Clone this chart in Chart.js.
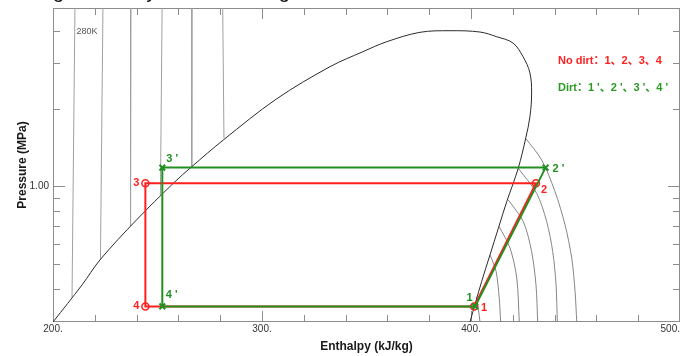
<!DOCTYPE html>
<html>
<head>
<meta charset="utf-8">
<script src="https://cdn.jsdelivr.net/npm/chart.js@4.4.1/dist/chart.umd.min.js"></script>
<style>
  html, body { margin: 0; padding: 0; background: #fff; }
  canvas { display: block; }
</style>
</head>
<body>
<canvas id="ph-chart" width="688" height="356"></canvas>
<script>
// saturation dome: liquid side up to the critical region, then down the vapour side
const satH = [200.0, 213.9, 222.5, 240.0, 257.6, 266.4, 281.5, 306.9, 332.5, 348.3, 359.7, 375.6, 390.0,
              404.3, 412.3, 420.1, 424.9, 428.2, 429.0, 428.2, 426.2, 422.6, 417.1, 413.1, 409.1, 405.1, 399.5];
const satP = [0.298, 0.415, 0.519, 0.742, 1.029, 1.193, 1.514, 2.183, 2.912, 3.331, 3.641, 3.960, 4.017,
              3.970, 3.807, 3.599, 3.185, 2.754, 2.304, 1.864, 1.542, 1.176, 0.873, 0.689, 0.543, 0.428, 0.298];

// isotherms, liquid part (top edge -> dome) and superheated part (dome -> bottom edge)
const isoLabels = ['280K', '290K', '300K', '310K', '320K', '330K'];
const isoLiquidH = [[210.5, 209.1], [223.9, 222.7], [237.3, 237.1], [252.2, 251.4], [266.5, 266.4], [281.2, 281.8]];
const isoLiquidP = [[4.92, 0.371], [4.92, 0.519], [4.92, 0.703], [4.92, 0.927], [4.92, 1.193], [4.92, 1.535]];
const isoVaporH = [
  [402.6, 403.6, 404.3],
  [409.1, 412.0, 413.5, 414.2],
  [413.5, 418.7, 421.9, 423.1],
  [417.8, 425.0, 429.0, 431.1, 431.9],
  [422.6, 431.4, 436.2, 439.1, 440.7, 441.3],
  [426.1, 433.8, 440.2, 445.0, 448.2, 449.8, 450.6]
];
const isoVaporP = [
  [0.373, 0.332, 0.298],
  [0.543, 0.468, 0.369, 0.298],
  [0.698, 0.576, 0.441, 0.298],
  [0.887, 0.731, 0.559, 0.415, 0.298],
  [1.176, 0.941, 0.731, 0.559, 0.415, 0.298],
  [1.538, 1.267, 0.955, 0.709, 0.527, 0.391, 0.298]
];

// cycle states 1-2-3-4
const noDirtLabels = ['1', '2', '3', '4'];
const noDirtH = [401.5, 431.1, 244.2, 244.2];
const noDirtP = [0.3426, 1.029, 1.029, 0.3426];
const dirtLabels = ['1', "2 '", "3 '", "4 '"];
const dirtH = [402.0, 435.7, 252.3, 252.3];
const dirtP = [0.3426, 1.183, 1.183, 0.3426];

// axis ticks
const xTickLabels = [200, 300, 400, 500];
const xMinorTicks = [220, 240, 260, 280, 320, 340, 360, 380, 420, 440, 460, 480];
const xMajorTicks = [300, 400];
const yMinorTicks = [0.4, 0.5, 0.6, 0.7, 0.8, 0.9, 2, 3, 4];
const yMajorTicks = [1.0];

const RED = '#ff1f1f';
const GREEN = '#21901e';
const FONT = '"Liberation Sans", Arial, "Noto Sans CJK SC", sans-serif';

function pts(hs, ps) { return hs.map((h, i) => ({x: h, y: ps[i]})); }

function cycle(hs, ps) {
  const d = pts(hs, ps);
  d.push(d[0]);
  return d;
}

const datasets = [];
isoLabels.forEach((lab, i) => {
  datasets.push({ label: lab + ' liq', data: pts(isoLiquidH[i], isoLiquidP[i]), borderColor: '#a0a0a0', order: 3 });
  datasets.push({ label: lab + ' vap', data: pts(isoVaporH[i], isoVaporP[i]), borderColor: '#858585', tension: 0.3, order: 3 });
});
datasets.push({ label: 'saturation', data: pts(satH, satP), borderColor: '#2b2b2b', tension: 0.35, order: 2 });
datasets.push({
  label: 'No dirt', data: cycle(noDirtH, noDirtP), borderColor: RED, borderWidth: 2, order: 1,
  pointStyle: 'circle', pointRadius: [3.5, 3.5, 3.5, 3.5, 0], pointBorderWidth: 1.5,
  pointBorderColor: RED, pointBackgroundColor: 'rgba(0,0,0,0)'
});
datasets.push({
  label: 'Dirt', data: cycle(dirtH, dirtP), borderColor: GREEN, borderWidth: 2, order: 0,
  pointStyle: 'crossRot', pointRadius: [4, 4, 4, 4, 0], pointBorderWidth: 2,
  pointBorderColor: GREEN, pointBackgroundColor: GREEN
});

const overlay = {
  id: 'overlay',
  beforeDatasetsDraw(chart) {
    const {ctx, chartArea: a, scales: {x, y}} = chart;
    ctx.save();
    ctx.strokeStyle = '#8c8c8c';
    ctx.lineWidth = 1;
    ctx.strokeRect(a.left + 0.5, a.top + 0.5, a.right - a.left - 1, a.bottom - a.top - 1);
    ctx.beginPath();
    const vtick = (v, len) => {
      const px = Math.round(x.getPixelForValue(v)) + 0.5;
      ctx.moveTo(px, a.bottom); ctx.lineTo(px, a.bottom - len);
      ctx.moveTo(px, a.top); ctx.lineTo(px, a.top + len);
    };
    const htick = (v, len) => {
      const py = Math.round(y.getPixelForValue(v)) + 0.5;
      ctx.moveTo(a.left, py); ctx.lineTo(a.left + len, py);
      ctx.moveTo(a.right, py); ctx.lineTo(a.right - len, py);
    };
    xMinorTicks.forEach(v => vtick(v, 7));
    xMajorTicks.forEach(v => vtick(v, 11));
    yMinorTicks.forEach(v => htick(v, 7));
    yMajorTicks.forEach(v => htick(v, 12));
    ctx.stroke();

    // tick labels
    ctx.fillStyle = '#333';
    ctx.font = '10px ' + FONT;
    ctx.textBaseline = 'middle';
    xTickLabels.forEach(v => {
      const txt = v + '.';
      const w = ctx.measureText(txt).width;
      let cx = x.getPixelForValue(v);
      cx = Math.min(cx, a.right - w / 2);
      ctx.textAlign = 'center';
      ctx.fillText(txt, cx, a.bottom + 7);
    });
    ctx.textAlign = 'right';
    yMajorTicks.forEach(v => ctx.fillText(v.toFixed(2), a.left - 4, y.getPixelForValue(v)));

    // isotherm label
    ctx.fillStyle = '#555';
    ctx.font = '9px ' + FONT;
    ctx.textAlign = 'left';
    ctx.fillText(isoLabels[0], x.getPixelForValue(isoLiquidH[0][0]) + 1.5, y.getPixelForValue(3.98));

    // caption above the plot, only its descenders reach into the picture
    ctx.fillStyle = '#111';
    ctx.font = '20px ' + FONT;
    ctx.textBaseline = 'alphabetic';
    ctx.fillText('ge of the cycle on this diagram', a.left, -2);
    ctx.restore();
  },
  afterDatasetsDraw(chart) {
    const {ctx, chartArea: a, scales: {x, y}} = chart;
    ctx.save();
    ctx.font = 'bold 11px ' + FONT;
    ctx.textBaseline = 'middle';
    const redOff = [[10, 2, 'center'], [8, 7, 'center'], [-9, 0, 'center'], [-9, 0, 'center']];
    const greenOff = [[-5.5, -8.3, 'center'], [7, 1, 'left'], [4, -9, 'left'], [3.5, -11, 'left']];
    ctx.fillStyle = RED;
    noDirtLabels.forEach((t, i) => {
      ctx.textAlign = redOff[i][2];
      ctx.fillText(t, x.getPixelForValue(noDirtH[i]) + redOff[i][0], y.getPixelForValue(noDirtP[i]) + redOff[i][1]);
    });
    ctx.fillStyle = GREEN;
    dirtLabels.forEach((t, i) => {
      ctx.textAlign = greenOff[i][2];
      ctx.fillText(t, x.getPixelForValue(dirtH[i]) + greenOff[i][0], y.getPixelForValue(dirtP[i]) + greenOff[i][1]);
    });

    // key text, top right
    ctx.textAlign = 'left';
    ctx.fillStyle = RED;
    ctx.fillText('No dirt：' + noDirtLabels.join('、'), a.right - 122, a.top + 53);
    ctx.fillStyle = '#2a9a24';
    ctx.fillText('Dirt：' + ["1 '", "2 '", "3 '", "4 '"].join('、'), a.right - 122, a.top + 80);
    ctx.restore();
  }
};

Chart.defaults.font.family = FONT;

new Chart(document.getElementById('ph-chart'), {
  type: 'scatter',
  data: { datasets: datasets },
  options: {
    responsive: false,
    animation: false,
    devicePixelRatio: 1,
    showLine: true,
    elements: {
      line: { borderWidth: 1, fill: false },
      point: { radius: 0, hoverRadius: 0 }
    },
    layout: { padding: { top: 8, right: 8, left: 0, bottom: 0 } },
    plugins: { legend: { display: false }, tooltip: { enabled: false } },
    scales: {
      x: {
        type: 'linear', min: 200, max: 500,
        grid: { display: false }, border: { display: false }, ticks: { display: false },
        title: { display: true, text: 'Enthalpy (kJ/kg)', color: '#1a1a1a',
                 font: { size: 12, weight: 'bold' }, padding: { top: 0, bottom: 2 } },
        afterFit(s) { s.height = 34; }
      },
      y: {
        type: 'logarithmic', min: 0.298, max: 4.92,
        grid: { display: false }, border: { display: false }, ticks: { display: false },
        title: { display: true, text: 'Pressure (MPa)', color: '#1a1a1a',
                 font: { size: 12, weight: 'bold' }, padding: { top: 15, bottom: 0 } },
        afterFit(s) { s.width = 53; }
      }
    }
  },
  plugins: [overlay]
});
</script>
</body>
</html>
